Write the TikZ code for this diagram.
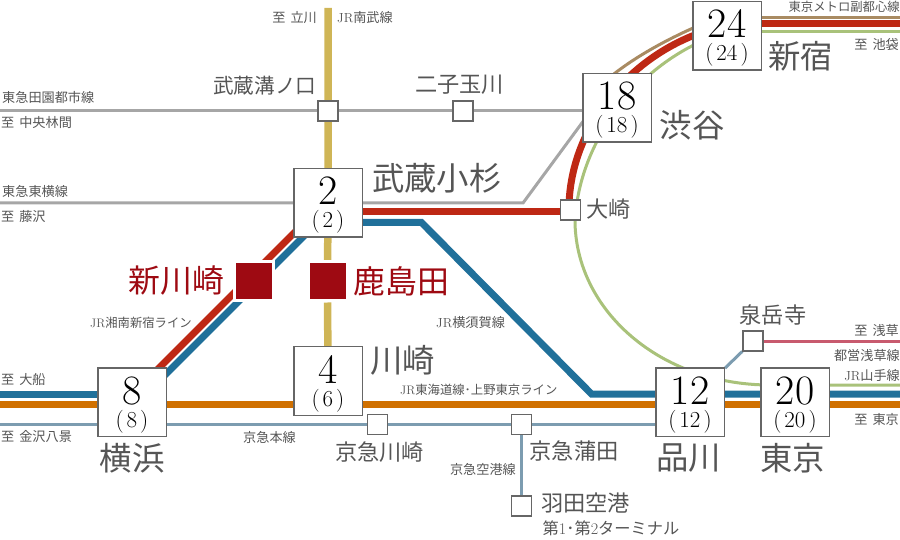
\documentclass[tikz,border=0pt]{standalone}
\usepackage{fontspec}
\usetikzlibrary{backgrounds}
\newfontfamily\jp{Noto Sans CJK JP}
\definecolor{ink}{HTML}{555555}
\definecolor{boxline}{HTML}{666666}
\definecolor{cgray}{HTML}{A6A6A6}
\definecolor{cyellow}{HTML}{CFB556}
\definecolor{cred}{HTML}{BE2814}
\definecolor{cblue}{HTML}{20709A}
\definecolor{corange}{HTML}{D07000}
\definecolor{csteel}{HTML}{7C9CB0}
\definecolor{cgreen}{HTML}{A9C27A}
\definecolor{cbrown}{HTML}{A98B62}
\definecolor{cpink}{HTML}{C85A6E}
\definecolor{cdark}{HTML}{9E0A12}
\newcommand{\stnum}[2]{\makebox[0pt][c]{\raisebox{-2bp}{\fontsize{42}{42}\selectfont #1}}\makebox[0pt][c]{\raisebox{-25bp}{\fontsize{23}{23}\selectfont (\kern3bp #2\kern3bp)}}}
\newcommand{\lat}[1]{{\normalfont #1}}
\newcommand{\itaru}{至\hspace{5bp}}
\tikzset{
  numbox/.style={draw=boxline,line width=1.5bp,fill=white,minimum size=68.5bp,inner sep=0,text height=0pt,text depth=0pt,text=black},
  smallbox/.style={draw=boxline,line width=1.5bp,fill=white,minimum size=20bp,inner sep=0},
  nearbox/.style={draw=white,line width=3bp,fill=cdark,minimum size=39bp,inner sep=0},
  bigtxt/.style={inner sep=0,text=ink,font=\jp\fontsize{32.5}{33}\selectfont},
  redtxt/.style={inner sep=0,text=cdark,font=\jp\fontsize{32}{33}\selectfont},
  midtxt/.style={inner sep=0,text=ink,font=\jp\fontsize{22.3}{23}\selectfont},
  midnarrow/.style={inner sep=0,text=ink,font=\jp\fontsize{20.7}{22}\selectfont},
  smalltxt/.style={inner sep=0,text=ink,font=\jp\fontsize{13.2}{14}\selectfont},
  narrowtxt/.style={inner sep=0,text=ink,font=\jp\fontsize{12.4}{13}\selectfont},
  termtxt/.style={inner sep=0,text=ink,font=\jp\fontsize{16.3}{17}\selectfont},
  thick line/.style={line width=7bp},
  thin line/.style={line width=3bp}
}
\begin{document}
\begin{tikzpicture}[x=1bp,y=-1bp]
\useasboundingbox (0,0) rectangle (900,540);
% stations
\node[numbox] (b2) at (328,203) {\stnum{2}{2}};
\node[numbox] (b4) at (328,381) {\stnum{4}{6}};
\node[numbox] (b8) at (132,402) {\stnum{8}{8}};
\node[numbox] (b12) at (690,402) {\stnum{12}{12}};
\node[numbox] (b20) at (795,402) {\stnum{20}{20}};
\node[numbox] (b18) at (617,108) {\stnum{18}{18}};
\node[numbox] (b24) at (727,36) {\stnum{24}{24}};
\node[smallbox] (mizo) at (328,111) {};
\node[smallbox] (futako) at (463,111) {};
\node[smallbox] (oosaki) at (570.5,210) {};
\node[smallbox] (kkawa) at (377.5,424.5) {};
\node[smallbox] (kama) at (521.5,424.5) {};
\node[smallbox] (haneda) at (521.5,506) {};
\node[smallbox] (sengaku) at (753,341) {};
\node[nearbox] (shin) at (254,281.5) {};
\node[nearbox] (kashima) at (327.5,281.5) {};
% labels
\node[bigtxt,anchor=west] (l1) at (372,178) {武蔵小杉};
\node[bigtxt,anchor=west] (l2) at (768,56) {新宿};
\node[bigtxt,anchor=west] (l3) at (659.5,125) {渋谷};
\node[bigtxt,anchor=west] (l4) at (370,360) {川崎};
\node[bigtxt] (l5) at (132,458) {横浜};
\node[bigtxt] (l6) at (688.5,458) {品川};
\node[bigtxt] (l7) at (792.5,458) {東京};
\node[redtxt,anchor=east] (l8) at (224.5,281) {新川崎};
\node[redtxt,anchor=west] (l9) at (353.5,281) {鹿島田};
\node[midnarrow,anchor=east] (m1) at (316.5,86) {武蔵溝ノ口};
\node[midtxt] (m2) at (459.5,85) {二子玉川};
\node[midtxt,anchor=west] (m3) at (586.5,209) {大崎};
\node[midtxt] (m4) at (379.5,452) {京急川崎};
\node[midtxt,anchor=west] (m5) at (529.5,451) {京急蒲田};
\node[midtxt,anchor=west] (m6) at (541,503) {羽田空港};
\node[midtxt] (m7) at (773,315.5) {泉岳寺};
\node[termtxt,anchor=west] (m8) at (542.5,528) {第\lat{1}･第\lat{2}ターミナル};
\node[smalltxt,anchor=east] (s1) at (317,18) {\itaru 立川};
\node[smalltxt,anchor=west] (s2) at (337,18) {\lat{JR}南武線};
\node[smalltxt,anchor=west] (s3) at (2,97) {東急田園都市線};
\node[smalltxt,anchor=west] (s4) at (1,123) {\itaru 中央林間};
\node[smalltxt,anchor=west] (s5) at (2,191) {東急東横線};
\node[smalltxt,anchor=west] (s6) at (1,217) {\itaru 藤沢};
\node[narrowtxt,anchor=east] (s7) at (900,7) {東京メトロ副都心線};
\node[smalltxt,anchor=east] (s8) at (899,45) {\itaru 池袋};
\node[narrowtxt,anchor=west] (s9) at (90,323) {\lat{JR}湘南新宿ライン};
\node[smalltxt,anchor=west] (s10) at (436,323) {\lat{JR}横須賀線};
\node[smalltxt,anchor=east] (s11) at (899,331) {\itaru 浅草};
\node[smalltxt,anchor=east] (s12) at (900,355) {都営浅草線};
\node[smalltxt,anchor=east] (s13) at (900,375) {\lat{JR}山手線};
\node[smalltxt,anchor=east] (s14) at (899,419) {\itaru 東京};
\node[narrowtxt,anchor=west] (s15) at (400,390) {\lat{JR}東海道線･上野東京ライン};
\node[smalltxt,anchor=west] (s16) at (1,380) {\itaru 大船};
\node[smalltxt,anchor=west] (s17) at (1,437) {\itaru 金沢八景};
\node[smalltxt,anchor=west] (s18) at (243,437) {京急本線};
\node[smalltxt,anchor=east] (s19) at (516,469) {京急空港線};
% free ends and offsets
\coordinate (yTop) at (328,8);
\coordinate (gW1) at (0,111);
\coordinate (gW2) at (0,203);
\coordinate (gKink) at (523,203);
\coordinate (gEnd) at (590,112);
\coordinate (rStart) at (328,212);
\coordinate (rOo) at (570,212);
\coordinate (rArcA) at (569,205);
\coordinate (rArcB) at (700,33);
\coordinate (rIn) at (727,24);
\coordinate (rE) at (900,24);
\coordinate (brArcA) at (600,86);
\coordinate (brArcB) at (700,25);
\coordinate (brIn) at (727,17.3);
\coordinate (brE) at (900,17.3);
\coordinate (grArcA) at (700,42);
\coordinate (grMid) at (575,220);
\coordinate (grArcB) at (770,385);
\coordinate (grIn) at (727,32);
\coordinate (grE) at (900,32);
\coordinate (grE2) at (900,385);
\coordinate (blStart) at (328,222.5);
\coordinate (blK1) at (421.5,222.5);
\coordinate (blK2) at (591.5,394);
\coordinate (blE) at (900,394);
\coordinate (blW) at (0,394);
\coordinate (b8blue) at (132,394);
\coordinate (blD1) at (310,230);
\coordinate (blD2) at (150,390);
\coordinate (rdD1) at (300,227);
\coordinate (rdD2) at (150,377);
\coordinate (orW) at (0,404.3);
\coordinate (orE) at (900,404.3);
\coordinate (stW) at (0,424.5);
\coordinate (pkE) at (900,341);
\begin{scope}[on background layer]
  % gray lines
  \draw[cgray,thin line] (gW1) -- (mizo) -- (futako) -- (futako -| b18);
  \draw[cgray,thin line] (gW2) -- (b2) -- (gKink) -- (gEnd);
  % yellow
  \draw[cyellow,line width=7.5bp] (yTop) -- (mizo) -- (b2) -- (kashima) -- (b4);
  % green
  \draw[cgreen,thin line] (grIn) -- (grE);
  \draw[cgreen,thin line] (grArcA) .. controls (635,72) and (580,140) .. (grMid)
     .. controls (575,310) and (660,385) .. (grArcB) -- (grE2);
  % brown
  \draw[cbrown,thin line] (brArcA) .. controls (625,62) and (665,40) .. (brArcB);
  \draw[cbrown,thin line] (brIn) -- (brE);
  % red
  \draw[cred,thick line] (rStart) -- (rOo);
  \draw[cred,thick line] (rArcA) .. controls (571,130) and (625,60) .. (rArcB);
  \draw[cred,thick line] (rIn) -- (rE);
  \draw[cred,thick line] (rdD1) -- (rdD2);
  % blue
  \draw[cblue,thick line,line join=miter] (blStart) -- (blK1) -- (blK2) -- (blE);
  \draw[cblue,thick line] (blD1) -- (blD2);
  \draw[cblue,thick line] (blW) -- (b8blue);
  % orange
  \draw[corange,thick line] (orW) -- (orE);
  % steel
  \draw[csteel,thin line] (stW) -- (kkawa) -- (kama) -- (kama -| b12);
  \draw[csteel,thin line] (kama) -- (haneda);
  \draw[csteel,thin line] (b12) -- (sengaku);
  % pink
  \draw[cpink,thin line] (sengaku) -- (pkE);
\end{scope}
\end{tikzpicture}
\end{document}
